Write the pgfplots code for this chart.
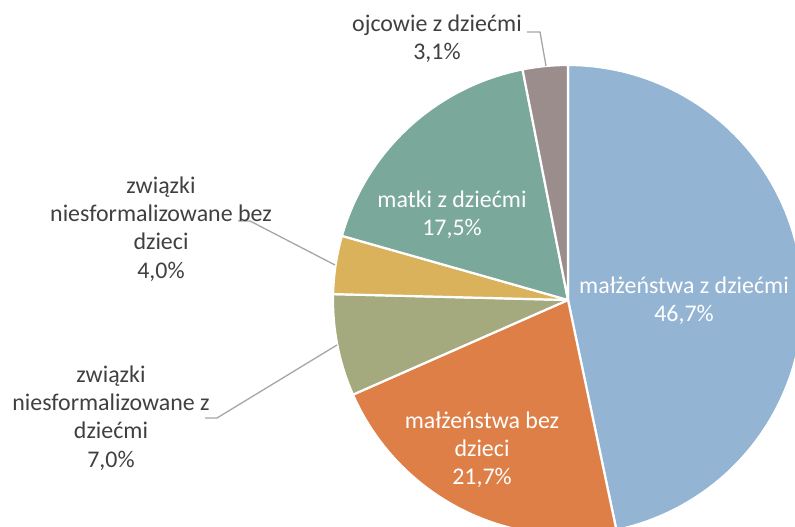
\documentclass[border=0pt]{standalone}
\usepackage{pgfplots}
\pgfplotsset{compat=1.18}
\usepackage{pgfplotstable}
\usepackage{fontspec}
\setmainfont{Carlito}
\definecolor{cA}{HTML}{94B4D3}
\definecolor{cB}{HTML}{DE7F48}
\definecolor{cC}{HTML}{A4AA7E}
\definecolor{cD}{HTML}{DAB25C}
\definecolor{cE}{HTML}{7AA89B}
\definecolor{cF}{HTML}{9B8D8C}
\definecolor{txt}{HTML}{404040}
\definecolor{lead}{HTML}{A6A6A6}
\pgfplotstableread{
value
46.7
21.7
7.0
4.0
17.5
3.1
}\piedata
\begin{document}%
\begin{tikzpicture}
\pgfmathsetmacro\angA{90}
\pgfplotstablegetelem{0}{value}\of\piedata \pgfmathsetmacro\angB{\angA-3.6*\pgfplotsretval}
\pgfplotstablegetelem{1}{value}\of\piedata \pgfmathsetmacro\angC{\angB-3.6*\pgfplotsretval}
\pgfplotstablegetelem{2}{value}\of\piedata \pgfmathsetmacro\angD{\angC-3.6*\pgfplotsretval}
\pgfplotstablegetelem{3}{value}\of\piedata \pgfmathsetmacro\angE{\angD-3.6*\pgfplotsretval}
\pgfplotstablegetelem{4}{value}\of\piedata \pgfmathsetmacro\angF{\angE-3.6*\pgfplotsretval}
\pgfplotstablegetelem{5}{value}\of\piedata \pgfmathsetmacro\angG{\angF-3.6*\pgfplotsretval}
\begin{axis}[width=795bp,height=527bp,scale only axis,
  xmin=0,xmax=795,ymin=-527,ymax=0,hide axis,clip=true]
\pgfplotsset{wedge/.style={draw=white,line width=2.2bp,samples=90,line join=round}}
\addplot[wedge,fill=cA,domain=\angB:\angA] ({568+235*cos(x)},{-300+235*sin(x)}) -- (axis cs:568,-300) -- cycle;
\addplot[wedge,fill=cB,domain=\angC:\angB] ({568+235*cos(x)},{-300+235*sin(x)}) -- (axis cs:568,-300) -- cycle;
\addplot[wedge,fill=cC,domain=\angD:\angC] ({568+235*cos(x)},{-300+235*sin(x)}) -- (axis cs:568,-300) -- cycle;
\addplot[wedge,fill=cD,domain=\angE:\angD] ({568+235*cos(x)},{-300+235*sin(x)}) -- (axis cs:568,-300) -- cycle;
\addplot[wedge,fill=cE,domain=\angF:\angE] ({568+235*cos(x)},{-300+235*sin(x)}) -- (axis cs:568,-300) -- cycle;
\addplot[wedge,fill=cF,domain=\angG:\angF] ({568+235*cos(x)},{-300+235*sin(x)}) -- (axis cs:568,-300) -- cycle;
% leader lines
\draw[lead,line width=1.3bp] (axis cs:527,-32) -- (axis cs:540,-32) -- (axis cs:546,-66);
\draw[lead,line width=1.3bp] (axis cs:238,-221) -- (axis cs:250,-221) -- (axis cs:335,-265);
\draw[lead,line width=1.3bp] (axis cs:205,-418) -- (axis cs:217,-418) -- (axis cs:337,-345);
% labels
\tikzset{lab/.style={align=center,font=\fontsize{24}{28.3}\selectfont,inner sep=0pt}}
\node[lab,text=txt] at (axis cs:437,-39) {ojcowie z dziećmi\\3,1\%};
\node[lab,text=txt] at (axis cs:161,-229) {związki\\niesformalizowane bez\\dzieci\\4,0\%};
\node[lab,text=txt] at (axis cs:111,-418) {związki\\niesformalizowane z\\dziećmi\\7,0\%};
\node[lab,text=white] at (axis cs:452,-215) {matki z dziećmi\\17,5\%};
\node[lab,text=white] at (axis cs:684,-301) {małżeństwa z dziećmi\\46,7\%};
\node[lab,text=white] at (axis cs:482,-450) {małżeństwa bez\\dzieci\\21,7\%};
\coordinate (bbl) at (axis cs:0,-527);
\coordinate (btr) at (axis cs:795,0);
\end{axis}
\pgfresetboundingbox
\path[use as bounding box] (bbl) rectangle (btr);
\end{tikzpicture}%
\end{document}
